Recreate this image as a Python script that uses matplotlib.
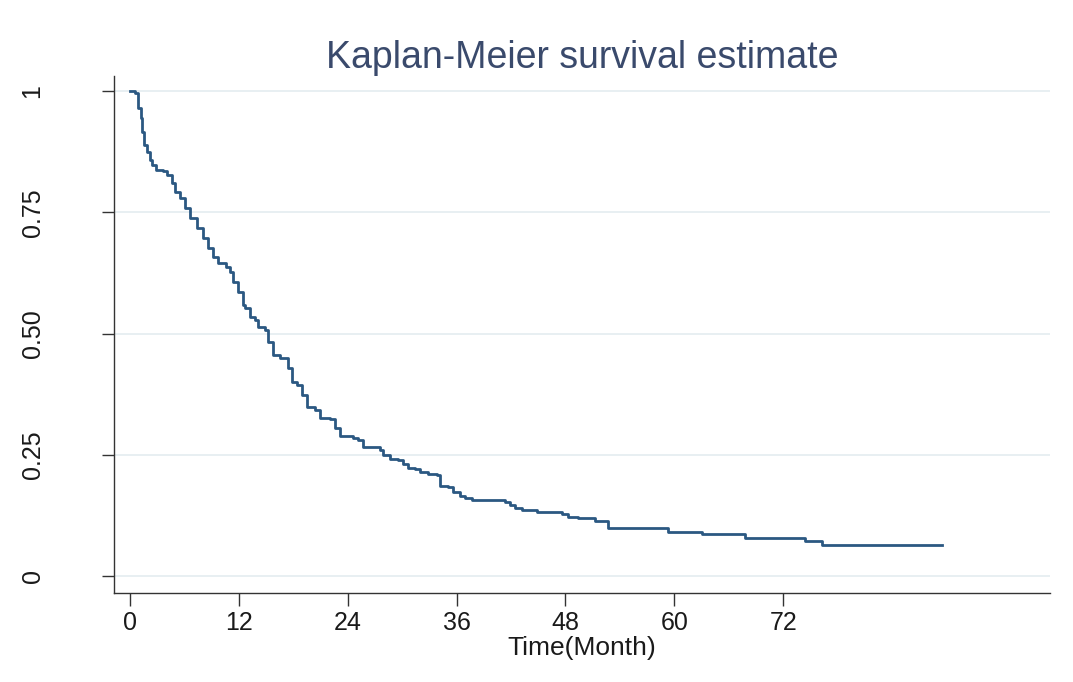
import matplotlib
matplotlib.use("Agg")
from matplotlib import pyplot as plt

# Kaplan-Meier estimate (value after each drop)
temps = [0.0, 0.55, 0.92, 1.18, 1.36, 1.54, 1.84, 2.2, 2.46, 2.83, 3.6, 4.05,
         4.6, 4.96, 5.51, 6.06, 6.62, 7.35, 8.08, 8.63, 9.18, 9.74, 10.58,
         11.03, 11.39, 11.94, 12.43, 12.68, 13.23, 13.78, 14.15, 14.88, 15.25,
         15.8, 16.54, 17.45, 17.83, 18.38, 18.93, 19.48, 20.4, 20.95, 22.05,
         22.6, 23.15, 24.6, 25.17, 25.72, 27.56, 27.93, 28.67, 29.58, 30.13,
         30.68, 31.42, 31.97, 32.89, 33.8, 34.18, 35.09, 35.65, 36.38, 36.93,
         37.67, 41.35, 41.9, 42.45, 43.19, 44.84, 47.6, 48.32, 49.43, 51.27,
         52.7, 59.35, 63.03, 67.8, 74.4, 76.26, 89.5]
survie = [1.0, 0.995, 0.965, 0.944, 0.916, 0.889, 0.875, 0.858, 0.847, 0.837,
          0.835, 0.827, 0.810, 0.792, 0.779, 0.758, 0.738, 0.717, 0.696, 0.676,
          0.658, 0.645, 0.638, 0.627, 0.607, 0.586, 0.559, 0.552, 0.535, 0.528,
          0.514, 0.507, 0.483, 0.456, 0.449, 0.428, 0.401, 0.394, 0.373, 0.349,
          0.342, 0.326, 0.324, 0.305, 0.289, 0.285, 0.280, 0.265, 0.260, 0.249,
          0.241, 0.240, 0.230, 0.223, 0.220, 0.214, 0.211, 0.208, 0.186, 0.184,
          0.174, 0.166, 0.161, 0.157, 0.152, 0.146, 0.141, 0.137, 0.133, 0.127,
          0.122, 0.119, 0.114, 0.098, 0.091, 0.086, 0.079, 0.0715, 0.0645, 0.0645]

xticks = [0, 12, 24, 36, 48, 60, 72]
yticks = [0, 0.25, 0.5, 0.75, 1]
ylabels = ["0", "0.25", "0.50", "0.75", "1"]

plt.rcParams["font.family"] = ["Liberation Sans", "DejaVu Sans"]

fig = plt.figure(figsize=(10.73, 6.82), dpi=100)
ax = fig.add_axes([0.1062, 0.1305, 0.9786 - 0.1062, 0.8886 - 0.1305])

# lignes de grille horizontales
for y in yticks:
    ax.axhline(y, color="#e6eef1", lw=1.3, zorder=0)

ax.plot(temps, survie, drawstyle="steps-post", color="#2b5882", lw=2.0)

ax.set_xlim(-1.76, 101.4)
ax.set_ylim(-0.035, 1.031)

ax.set_xticks(xticks)
ax.set_yticks(yticks)
ax.set_yticklabels(ylabels)
ax.tick_params(axis="x", length=9, width=1, color="#333333", labelsize=18, pad=4, labelcolor="#1a1a1a")
ax.tick_params(axis="y", length=9, width=1, color="#333333", labelsize=18, pad=41, labelcolor="#1a1a1a")
plt.setp(ax.get_yticklabels(), rotation=90, va="center")

for s in ["top", "right"]:
    ax.spines[s].set_visible(False)
for s in ["left", "bottom"]:
    ax.spines[s].set_color("#333333")
    ax.spines[s].set_linewidth(1)

ax.set_xlabel("Time(Month)", fontsize=19, labelpad=1, color="#1a1a1a")
ax.set_title("Kaplan-Meier survival estimate", fontsize=27, color="#3a4a6c", pad=6)

fig.savefig("out.png", dpi=100, facecolor="white")
